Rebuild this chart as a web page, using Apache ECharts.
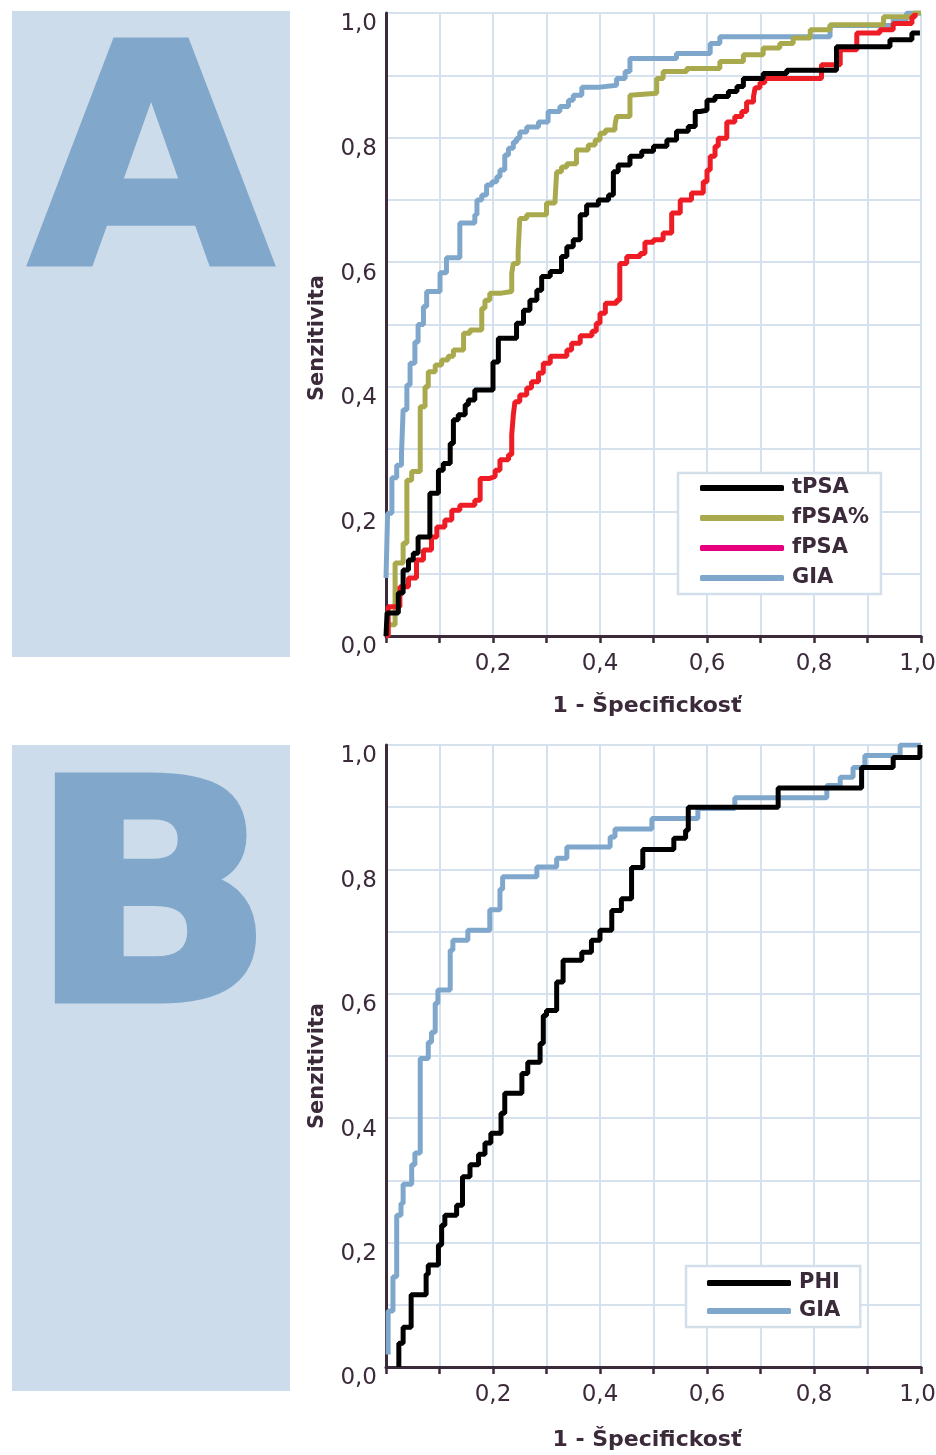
<!DOCTYPE html>
<html>
<head>
<meta charset="utf-8">
<script src="https://cdn.jsdelivr.net/npm/echarts@6/dist/echarts.min.js"></script>
<style>
html,body{margin:0;padding:0;background:#fff;}
#chart{width:936px;height:1455px;}
</style>
</head>
<body>
<div id="chart"></div>
<script>
// ---------- tick labels ----------
const xTickValues = [0.2, 0.4, 0.6, 0.8, 1.0];
const xTickLabels = ['0,2', '0,4', '0,6', '0,8', '1,0'];
const yTickValues = [0, 0.2, 0.4, 0.6, 0.8, 1.0];
const yTickLabels = ['0,0', '0,2', '0,4', '0,6', '0,8', '1,0'];

// ---------- panel A series (x = 1 - specificity, y = sensitivity) ----------
const tPSA_A = [[0,0],[0.002,0.037],[0.023,0.069],[0.032,0.106],[0.042,0.122],[0.051,0.133],[0.06,0.159],[0.082,0.229],[0.098,0.266],[0.107,0.277],[0.12,0.309],[0.126,0.347],[0.135,0.355],[0.148,0.371],[0.154,0.379],[0.166,0.395],[0.2,0.44],[0.21,0.478],[0.244,0.502],[0.257,0.523],[0.269,0.539],[0.282,0.555],[0.291,0.577],[0.307,0.585],[0.328,0.609],[0.338,0.625],[0.35,0.636],[0.363,0.676],[0.375,0.692],[0.397,0.7],[0.416,0.708],[0.425,0.745],[0.434,0.756],[0.456,0.77],[0.478,0.778],[0.5,0.786],[0.525,0.796],[0.543,0.81],[0.565,0.818],[0.578,0.842],[0.587,0.844],[0.6,0.86],[0.615,0.866],[0.64,0.874],[0.656,0.882],[0.668,0.895],[0.705,0.903],[0.749,0.908],[0.842,0.946],[0.942,0.957],[0.983,0.968],[0.998,0.968]];
const fPSApct_A = [[0.004,0],[0.004,0.018],[0.017,0.117],[0.032,0.149],[0.039,0.25],[0.048,0.264],[0.064,0.368],[0.073,0.4],[0.079,0.424],[0.092,0.435],[0.104,0.443],[0.116,0.449],[0.126,0.459],[0.145,0.486],[0.157,0.491],[0.179,0.526],[0.185,0.539],[0.194,0.55],[0.213,0.553],[0.235,0.582],[0.238,0.598],[0.247,0.617],[0.25,0.67],[0.263,0.676],[0.3,0.695],[0.316,0.7],[0.319,0.745],[0.328,0.753],[0.338,0.758],[0.356,0.78],[0.378,0.788],[0.391,0.796],[0.4,0.807],[0.41,0.812],[0.428,0.82],[0.431,0.834],[0.456,0.868],[0.459,0.871],[0.506,0.895],[0.518,0.906],[0.562,0.911],[0.624,0.922],[0.668,0.933],[0.705,0.944],[0.736,0.951],[0.761,0.96],[0.793,0.973],[0.83,0.981],[0.93,0.994],[0.986,1.0],[1,1]];
const fPSA_A = [[0,0],[0.004,0.047],[0.026,0.079],[0.042,0.093],[0.057,0.122],[0.07,0.138],[0.085,0.159],[0.095,0.175],[0.11,0.186],[0.123,0.202],[0.138,0.21],[0.166,0.218],[0.176,0.253],[0.194,0.256],[0.204,0.266],[0.213,0.283],[0.229,0.291],[0.235,0.323],[0.238,0.355],[0.241,0.376],[0.25,0.387],[0.263,0.398],[0.272,0.408],[0.285,0.422],[0.294,0.438],[0.307,0.449],[0.338,0.459],[0.347,0.47],[0.363,0.482],[0.385,0.489],[0.393,0.502],[0.4,0.518],[0.41,0.534],[0.431,0.539],[0.437,0.598],[0.45,0.609],[0.475,0.614],[0.484,0.632],[0.5,0.636],[0.518,0.647],[0.534,0.679],[0.55,0.7],[0.571,0.711],[0.593,0.729],[0.6,0.748],[0.606,0.77],[0.615,0.786],[0.621,0.799],[0.637,0.825],[0.652,0.834],[0.665,0.842],[0.674,0.857],[0.687,0.866],[0.69,0.88],[0.699,0.888],[0.708,0.895],[0.814,0.917],[0.849,0.941],[0.88,0.968],[0.923,0.973],[0.948,0.983],[0.983,0.994],[0.989,1.0]];
const GIA_A = [[0,0.093],[0.003,0.197],[0.011,0.254],[0.02,0.274],[0.029,0.294],[0.032,0.363],[0.039,0.403],[0.045,0.438],[0.054,0.472],[0.06,0.5],[0.07,0.529],[0.076,0.553],[0.101,0.583],[0.113,0.607],[0.138,0.663],[0.166,0.676],[0.17,0.7],[0.179,0.708],[0.188,0.724],[0.198,0.729],[0.207,0.737],[0.213,0.748],[0.222,0.772],[0.229,0.783],[0.238,0.793],[0.244,0.799],[0.25,0.809],[0.263,0.817],[0.285,0.825],[0.303,0.842],[0.325,0.85],[0.341,0.86],[0.35,0.868],[0.366,0.881],[0.4,0.884],[0.431,0.895],[0.447,0.906],[0.456,0.927],[0.543,0.935],[0.606,0.951],[0.624,0.962],[0.83,0.98],[0.948,0.989],[0.973,1.0],[1,1]];

// ---------- panel B series ----------
const PHI_B = [[0.024,0],[0.024,0.038],[0.032,0.064],[0.047,0.116],[0.075,0.149],[0.079,0.164],[0.098,0.196],[0.104,0.228],[0.11,0.244],[0.132,0.26],[0.143,0.306],[0.157,0.325],[0.173,0.342],[0.185,0.36],[0.196,0.376],[0.215,0.408],[0.222,0.44],[0.254,0.472],[0.265,0.49],[0.288,0.52],[0.294,0.565],[0.3,0.573],[0.319,0.619],[0.331,0.654],[0.366,0.667],[0.384,0.686],[0.4,0.702],[0.422,0.734],[0.44,0.753],[0.459,0.803],[0.48,0.832],[0.538,0.85],[0.56,0.863],[0.565,0.9],[0.733,0.931],[0.889,0.964],[0.948,0.98],[0.998,1.0]];
const GIA_B = [[0.004,0.02],[0.004,0.09],[0.013,0.145],[0.02,0.244],[0.028,0.263],[0.032,0.294],[0.048,0.325],[0.054,0.344],[0.064,0.496],[0.079,0.522],[0.085,0.538],[0.092,0.585],[0.097,0.606],[0.12,0.67],[0.125,0.686],[0.153,0.702],[0.194,0.735],[0.213,0.768],[0.218,0.788],[0.282,0.804],[0.319,0.818],[0.338,0.836],[0.419,0.852],[0.428,0.865],[0.497,0.882],[0.583,0.898],[0.652,0.915],[0.824,0.935],[0.849,0.948],[0.873,0.964],[0.895,0.983],[0.961,1.0],[1.0,1.0]];

// ---------- styling ----------
const AXIS = '#3b2a3a';
const GRIDC = '#d5e2ee';
const C_BLACK = '#000000', C_OLIVE = '#a9aa4e', C_RED = '#ee1c25', C_PINK = '#e6007e', C_BLUE = '#7fa7cc';
const LETTER = '#81a7cb';
const FONT = 'DejaVu Sans';

function fmt(vals, labels, lastRich) {
  return function (v) {
    const i = vals.findIndex(t => Math.abs(t - v) < 1e-6);
    if (i < 0) return '';
    if (lastRich && i === vals.length - 1) return '{last|' + labels[i] + '}';
    return labels[i];
  };
}
function xAxisCfg(gi) {
  return {
    type: 'value', gridIndex: gi, min: 0, max: 1, interval: 0.1,
    axisLine: { show: true, lineStyle: { color: AXIS, width: 3 } },
    axisTick: { show: true, length: 7, lineStyle: { color: AXIS, width: 2.5 } },
    axisLabel: {
      formatter: fmt(xTickValues, xTickLabels, true), color: AXIS, fontFamily: FONT, fontSize: 23, margin: 17, hideOverlap: false,
      rich: { last: { color: AXIS, fontFamily: FONT, fontSize: 23, padding: [0, 7, 0, 0] } }
    },
    splitLine: { show: true, lineStyle: { color: GRIDC, width: 2 } }
  };
}
function yAxisCfg(gi) {
  return {
    type: 'value', gridIndex: gi, min: 0, max: 1, interval: 0.1,
    axisLine: { show: true, lineStyle: { color: AXIS, width: 3 } },
    axisTick: { show: false },
    axisLabel: { formatter: fmt(yTickValues, yTickLabels, false), color: AXIS, fontFamily: FONT, fontSize: 23, margin: 9, verticalAlign: 'top', lineHeight: 23 },
    splitLine: { show: true, lineStyle: { color: GRIDC, width: 2 } }
  };
}
function lineSeries(name, data, color, xi, width) {
  return {
    type: 'line', name: name, data: data, xAxisIndex: xi, yAxisIndex: xi,
    step: 'end', showSymbol: false, symbol: 'none', animation: false,
    lineStyle: { color: color, width: width || 5 }, itemStyle: { color: color }
  };
}
const legendText = { color: AXIS, fontFamily: FONT, fontSize: 21, fontWeight: 'bold', lineHeight: 22, padding: [0, 0, 0, 3] };

const chart = echarts.init(document.getElementById('chart'), null, { renderer: 'canvas', width: 936, height: 1455 });
chart.setOption({
  animation: false,
  backgroundColor: '#ffffff',
  grid: [
    { left: 386, top: 13, width: 535, height: 623, containLabel: false, outerBoundsMode: 'none' },
    { left: 386, top: 745, width: 535, height: 622, containLabel: false, outerBoundsMode: 'none' }
  ],
  xAxis: [xAxisCfg(0), xAxisCfg(1)],
  yAxis: [yAxisCfg(0), yAxisCfg(1)],
  legend: [
    {
      left: 678, top: 473, orient: 'vertical', selectedMode: false,
      icon: 'roundRect', itemWidth: 84, itemHeight: 6, itemGap: 8,
      padding: [4, 12, 5, 22], borderColor: '#d3e0ec', borderWidth: 2.5, backgroundColor: '#ffffff',
      textStyle: legendText,
      data: [
        { name: 'tPSA', itemStyle: { color: C_BLACK } },
        { name: 'fPSA%', itemStyle: { color: C_OLIVE } },
        { name: 'fPSA', itemStyle: { color: C_PINK } },
        { name: 'GIA', itemStyle: { color: C_BLUE } }
      ]
    },
    {
      left: 686, top: 1266, orient: 'vertical', selectedMode: false,
      icon: 'roundRect', itemWidth: 84, itemHeight: 6, itemGap: 6,
      padding: [6, 20, 5, 21], borderColor: '#d3e0ec', borderWidth: 2.5, backgroundColor: '#ffffff',
      textStyle: legendText,
      data: [
        { name: 'PHI', itemStyle: { color: C_BLACK } },
        { name: 'GIA', itemStyle: { color: C_BLUE } }
      ]
    }
  ],
  series: [
    lineSeries('GIA', GIA_A, C_BLUE, 0),
    lineSeries('fPSA%', fPSApct_A, C_OLIVE, 0),
    lineSeries('fPSA', fPSA_A, C_RED, 0),
    lineSeries('tPSA', tPSA_A, C_BLACK, 0, 5),
    lineSeries('GIA', GIA_B, C_BLUE, 1),
    lineSeries('PHI', PHI_B, C_BLACK, 1, 5)
  ],
  graphic: [
    { type: 'rect', shape: { x: 12, y: 11, width: 278, height: 646 }, style: { fill: '#cddcea' }, z: -1 },
    { type: 'rect', shape: { x: 12, y: 745, width: 278, height: 646 }, style: { fill: '#cddcea' }, z: -1 },
    { type: 'text', x: 151, y: 184, scaleX: 1.03, style: { text: 'A', fill: LETTER, stroke: LETTER, lineWidth: 6, lineJoin: 'miter', font: 'bold 306px "DejaVu Sans"', textAlign: 'center', textVerticalAlign: 'middle' } },
    { type: 'text', x: 152, y: 920, scaleX: 1.05, style: { text: 'B', fill: LETTER, stroke: LETTER, lineWidth: 8, lineJoin: 'miter', font: 'bold 306px "DejaVu Sans"', textAlign: 'center', textVerticalAlign: 'middle' } },
    { type: 'text', x: 318, y: 338, rotation: Math.PI / 2, style: { text: 'Senzitivita', fill: AXIS, font: 'bold 21px "DejaVu Sans"', textAlign: 'center', textVerticalAlign: 'middle' } },
    { type: 'text', x: 318, y: 1066, rotation: Math.PI / 2, style: { text: 'Senzitivita', fill: AXIS, font: 'bold 21px "DejaVu Sans"', textAlign: 'center', textVerticalAlign: 'middle' } },
    { type: 'text', x: 647, y: 706, style: { text: '1 - Špecifickosť', fill: AXIS, font: 'bold 22px "DejaVu Sans"', textAlign: 'center', textVerticalAlign: 'middle' } },
    { type: 'text', x: 647, y: 1440, style: { text: '1 - Špecifickosť', fill: AXIS, font: 'bold 22px "DejaVu Sans"', textAlign: 'center', textVerticalAlign: 'middle' } }
  ]
});
</script>
</body>
</html>
